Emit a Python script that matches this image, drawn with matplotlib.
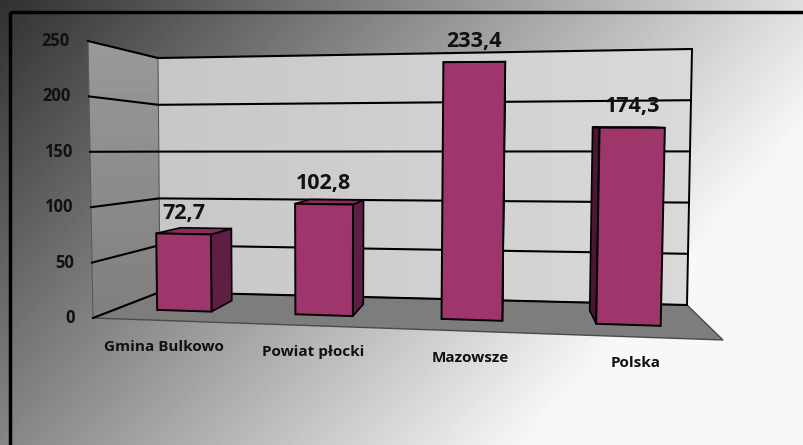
import numpy as np
import matplotlib
matplotlib.use("Agg")
import matplotlib.pyplot as plt
from matplotlib.patches import Polygon, Rectangle

categories = ["Gmina Bulkowo", "Powiat płocki", "Mazowsze", "Polska"]
values = [72.7, 102.8, 233.4, 174.3]
value_labels = ["72,7", "102,8", "233,4", "174,3"]
y_ticks = [0, 50, 100, 150, 200, 250]
y_max = 250

plt.rcParams['font.family'] = ['Open Sans', 'DejaVu Sans']

W, H = 804, 445
fig = plt.figure(figsize=(W / 100, H / 100), dpi=100)
ax = fig.add_axes([0, 0, 1, 1])
ax.set_xlim(0, W)
ax.set_ylim(H, 0)
ax.axis("off")

# background: diagonal grey gradient
xx, yy = np.meshgrid(np.arange(W), np.arange(H))
bg = np.clip(0.19 + 0.00085 * xx + 0.00075 * yy, 0, 0.97)
ax.imshow(bg, cmap="gray", vmin=0, vmax=1, extent=(0, W, H, 0),
          aspect="auto", zorder=0, interpolation="bilinear")
ax.add_patch(Rectangle((10, 12), W, H, fill=False, ec="black", lw=2.5, zorder=1))

# corners of the 3d box (screen space), used for a simple perspective
FLB, FLT = np.array([93., 318.]), np.array([88., 41.])
FRB, FRT = np.array([723., 340.]), np.array([731., 37.])
BLB, BLT = np.array([160., 292.]), np.array([158., 58.])
BRB, BRT = np.array([687., 305.]), np.array([692., 49.])
S = 1.12  # right side is closer to the viewer


def mix(a, b, t):
    return a + (b - a) * t


def proj(f, v, d):
    # f: 0..1 along categories, v: value, d: 0 front .. 1 back
    f = f / (S - (S - 1) * f)
    h = v / y_max
    pb = mix(mix(FLB, FRB, f), mix(BLB, BRB, f), d)
    pt = mix(mix(FLT, FRT, f), mix(BLT, BRT, f), d)
    return mix(pb, pt, h)


def grad_fill(pts, c0, c1, horizontal=True, z=2):
    poly = Polygon(pts, closed=True, fc="none", ec="none", zorder=z)
    ax.add_patch(poly)
    xs, ys = np.array(pts)[:, 0], np.array(pts)[:, 1]
    g = np.linspace(c0, c1, 64)
    img = g[None, :] if horizontal else g[:, None]
    im = ax.imshow(img, cmap="gray", vmin=0, vmax=1,
                   extent=(xs.min(), xs.max(), ys.max(), ys.min()),
                   aspect="auto", zorder=z, interpolation="bilinear")
    im.set_clip_path(poly)


# walls and floor
back = [proj(0, 0, 1), proj(1, 0, 1), proj(1, y_max, 1), proj(0, y_max, 1)]
left = [proj(0, 0, 0), proj(0, 0, 1), proj(0, y_max, 1), proj(0, y_max, 0)]
floor = [proj(0, 0, 0), proj(1, 0, 0), proj(1, 0, 1), proj(0, 0, 1)]
grad_fill(back, 0.78, 0.85)
grad_fill(left, 0.60, 0.50, horizontal=False)
ax.add_patch(Polygon(floor, closed=True, fc="#7d7d7d", ec="#4a4a4a", lw=1, zorder=2))
ax.add_patch(Polygon(left, closed=True, fc="none", ec="#5a5a5a", lw=0.8, zorder=3))
ax.plot(*np.array([proj(1, 0, 1), proj(1, y_max, 1)]).T, color="black", lw=1.4, zorder=3)

for t in y_ticks:
    line = np.array([proj(0, t, 0), proj(0, t, 1), proj(1, t, 1)])
    ax.plot(line[:, 0], line[:, 1], color="black", lw=1.5, zorder=3)
    ax.annotate(str(t), xy=proj(0, t, 0), xytext=(-13, 0), textcoords="offset points",
                ha="right", va="center", fontsize=12, fontweight="bold", color="#111111")

# bars
n = len(values)
d0, d1 = 0.36, 0.76
for i, (cat, v, lbl) in enumerate(zip(categories, values, value_labels)):
    fc = (i + 0.5) / n
    f0, f1 = fc - 0.05, fc + 0.05
    front = [proj(f0, 0, d0), proj(f1, 0, d0), proj(f1, v, d0), proj(f0, v, d0)]
    top = [proj(f0, v, d0), proj(f1, v, d0), proj(f1, v, d1), proj(f0, v, d1)]
    right = [proj(f1, 0, d0), proj(f1, 0, d1), proj(f1, v, d1), proj(f1, v, d0)]
    lside = [proj(f0, 0, d0), proj(f0, 0, d1), proj(f0, v, d1), proj(f0, v, d0)]
    if proj(f1, 0, d1)[0] > proj(f1, 0, d0)[0]:
        ax.add_patch(Polygon(right, closed=True, fc="#5f1f44", ec="black", lw=1.2, zorder=4))
    if proj(f0, 0, d1)[0] < proj(f0, 0, d0)[0]:
        ax.add_patch(Polygon(lside, closed=True, fc="#4a1634", ec="black", lw=1.2, zorder=4))
    ax.add_patch(Polygon(top, closed=True, fc="#8a2a5d", ec="black", lw=1.2, zorder=4))
    ax.add_patch(Polygon(front, closed=True, fc="#9e356b", ec="black", lw=1.4, zorder=5))

    ax.annotate(lbl, xy=proj(fc, v, d0), xytext=(0, 15), textcoords="offset points",
                ha="center", va="center", fontsize=15.5, fontweight="bold", color="#111111")
    ax.annotate(cat, xy=proj(fc, 0, 0), xytext=(0, -19), textcoords="offset points",
                ha="center", va="center", fontsize=11, fontweight="bold", color="#111111")

fig.savefig("out.png", dpi=100)
